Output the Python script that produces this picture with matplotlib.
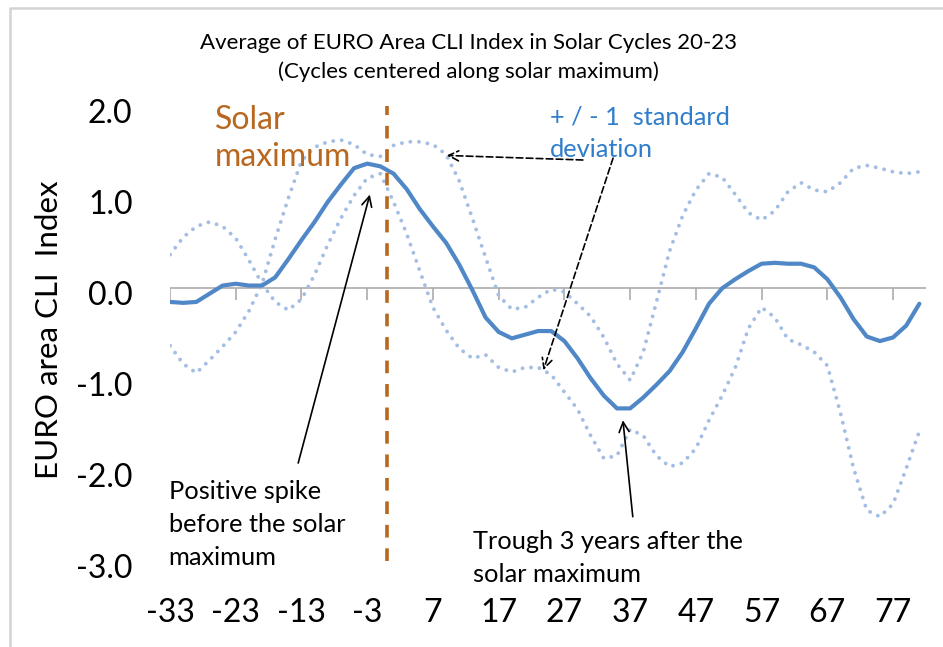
import matplotlib
matplotlib.use("Agg")
import matplotlib.pyplot as plt
import matplotlib.transforms as mtransforms
from matplotlib.lines import Line2D
import numpy as np

plt.rcParams['font.family'] = ['Lato', 'DejaVu Sans']

# months relative to solar maximum (every 2nd month)
months = list(range(-33, 83, 2))

cli_avg = [-0.15, -0.16, -0.15, -0.06, 0.03, 0.05, 0.03, 0.03, 0.12, 0.32,
           0.53, 0.73, 0.95, 1.14, 1.32, 1.37, 1.34, 1.26, 1.09, 0.87,
           0.68, 0.50, 0.26, -0.02, -0.32, -0.48, -0.55, -0.51, -0.47, -0.47,
           -0.58, -0.77, -0.99, -1.18, -1.32, -1.32, -1.20, -1.06, -0.91, -0.70,
           -0.44, -0.17, 0.00, 0.10, 0.19, 0.27, 0.28, 0.27, 0.27, 0.23,
           0.10, -0.10, -0.34, -0.53, -0.58, -0.54, -0.41, -0.17]

band_a = [0.37, 0.56, 0.68, 0.73, 0.68, 0.55, 0.31, 0.05, -0.15, -0.24,
          -0.12, 0.15, 0.48, 0.77, 1.02, 1.21, 1.26, 0.95, 0.60, 0.19,
          -0.21, -0.46, -0.66, -0.77, -0.73, -0.87, -0.92, -0.87, -0.87, -0.95,
          -1.14, -1.33, -1.62, -1.87, -1.84, -1.55, -1.62, -1.84, -1.96, -1.92,
          -1.76, -1.45, -1.18, -0.87, -0.44, -0.21, -0.32, -0.56, -0.62, -0.70,
          -0.85, -1.37, -1.98, -2.44, -2.51, -2.37, -1.98, -1.57]

band_b = [-0.63, -0.83, -0.93, -0.79, -0.64, -0.48, -0.25, 0.05, 0.54, 0.99,
          1.40, 1.55, 1.61, 1.63, 1.58, 1.47, 1.45, 1.57, 1.61, 1.61,
          1.58, 1.47, 1.18, 0.77, 0.34, -0.08, -0.23, -0.21, -0.10, -0.01,
          -0.04, -0.17, -0.31, -0.54, -0.83, -1.01, -0.70, -0.15, 0.41, 0.80,
          1.08, 1.26, 1.22, 1.03, 0.83, 0.75, 0.85, 1.06, 1.16, 1.08,
          1.06, 1.16, 1.32, 1.35, 1.32, 1.28, 1.26, 1.28]

xtick_pos = [-33, -23, -13, -3, 7, 17, 27, 37, 47, 57, 67, 77]
ytick_pos = [-3, -2, -1, 0, 1, 2]

BLUE = '#4F87C7'
DOTS = '#A3BEE2'
ORANGE = '#B8671E'

fig = plt.figure(figsize=(9.43, 6.47), dpi=100)
ax = fig.add_axes([0.1803, 0.1325, 0.8016, 0.7032])

# dotted +/- 1 sd bands
for band in (band_a, band_b):
    ax.plot(months, band, color=DOTS, linewidth=2.8,
            linestyle=(0, (0.01, 2.2)), dash_capstyle='round', zorder=2)

ax.plot(months, cli_avg, color=BLUE, linewidth=3.0,
        solid_capstyle='round', solid_joinstyle='round', zorder=3)

# zero line with tick marks
ax.axhline(0, color='#ABABAB', linewidth=1.2, zorder=1)
ax.vlines(xtick_pos, -0.13, 0, color='#ABABAB', linewidth=1.2, zorder=1)

# solar maximum marker
ax.axvline(0, color=ORANGE, linewidth=2.6, linestyle=(0, (3.5, 3.0)), zorder=4)

ax.set_xlim(-33, 82)
ax.set_ylim(-3, 2)
for s in ax.spines.values():
    s.set_visible(False)

ax.set_xticks(xtick_pos)
ax.set_xticklabels([str(v) for v in xtick_pos])
ax.set_yticks(ytick_pos)
ax.set_yticklabels([f"{v:.1f}" for v in ytick_pos])
ax.tick_params(axis='x', length=0, pad=26.5, labelsize=23)
ax.tick_params(axis='y', length=0, pad=27, labelsize=23)
shift = mtransforms.ScaledTranslation(0, -5 / 100, fig.dpi_scale_trans)
for lab in ax.get_yticklabels():
    lab.set_transform(lab.get_transform() + shift)

ax.set_ylabel("EURO area CLI  Index", fontsize=22.5)
ax.yaxis.set_label_coords(-0.141, 0.51)

fig.text(0.497, 0.911, "Average of EURO Area CLI Index in Solar Cycles 20-23\n"
         "(Cycles centered along solar maximum)",
         ha='center', va='center', fontsize=16, linespacing=1.5)

# annotations
ax.text(-26.2, 2.01, "Solar\nmaximum", color=ORANGE, fontsize=23,
        ha='left', va='top', linespacing=1.27, clip_on=False)
ax.text(24.8, 2.01, "+ / - 1  standard\ndeviation", color='#2F7DCB',
        fontsize=18.3, ha='left', va='top', linespacing=1.52, clip_on=False)
ax.text(-33.2, -2.11, "Positive spike\nbefore the solar\nmaximum",
        fontsize=18.3, ha='left', va='top', linespacing=1.52)
ax.text(13.1, -2.66, "Trough 3 years after the\nsolar maximum",
        fontsize=18.3, ha='left', va='top', linespacing=1.52, clip_on=False)

solid = dict(arrowstyle='->', color='black', lw=1.2,
             shrinkA=0, shrinkB=0, mutation_scale=18)
dashed = dict(solid, linestyle=(0, (4, 2)))
ax.annotate("", xy=(-2.6, 1.03), xytext=(-13.5, -1.92), arrowprops=solid)
ax.annotate("", xy=(35.9, -1.45), xytext=(37.4, -2.51), arrowprops=solid)
ax.annotate("", xy=(9.1, 1.46), xytext=(29.8, 1.41), arrowprops=dashed)
ax.annotate("", xy=(23.8, -0.90), xytext=(34.4, 1.43), arrowprops=dashed)

# chart area border (left and top edges visible)
fig.add_artist(Line2D([10 / 943, 10 / 943, 1.0], [0.0, 1 - 8 / 647, 1 - 8 / 647],
                      transform=fig.transFigure, color='#D4D4D4', linewidth=1.8))

fig.savefig("out.png", dpi=100)
